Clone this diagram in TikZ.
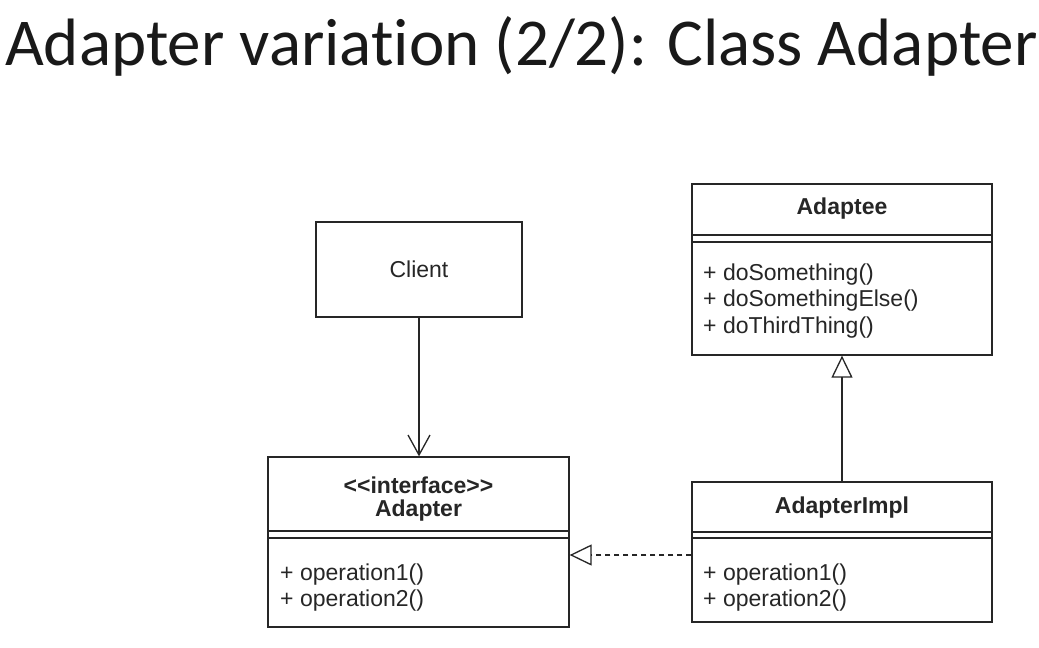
\documentclass[tikz,border=0pt]{standalone}
\usepackage{fontspec}
\setmainfont{Liberation Sans}
\newfontfamily\titlefont[Ligatures={NoCommon}]{Carlito}
\usetikzlibrary{arrows.meta}
\begin{document}
\begin{tikzpicture}[x=1pt,y=-1pt,
  umlbox/.style={draw=black!85, line width=1.3pt, rectangle, inner sep=0pt},
  sepline/.style={draw=black!85, line width=1.3pt},
  conn/.style={draw=black!85, line width=1.3pt},
  umltxt/.style={inner sep=0pt, font=\fontsize{23}{26}\selectfont, text=black!85},
  umlbold/.style={umltxt, font=\fontsize{23}{26}\selectfont\bfseries},
  mtxt/.style={umltxt, anchor=base west},
  inherit/.style={-{Triangle[open, length=22pt, width=21pt, line width=1.3pt]}},
  usesarrow/.style={-{Straight Barb[length=20pt, width=22pt, line width=1.3pt]}}
]
\useasboundingbox[fill=white] (0,0) rectangle (1039,648);

% title
\node[anchor=base west, inner sep=0pt, text=black!90] (title) at (5,65)
  {\titlefont\fontsize{67}{80}\selectfont Adapter variation (2/2): Class Adapter};

% Client
\node[umlbox, minimum width=206pt, minimum height=95pt] (client) at (419,269.5) {};
\node[umltxt] (clientlbl) at (client.center) {Client};

% Adapter interface
\node[umlbox, minimum width=301pt, minimum height=170pt] (adapter) at (418.5,542) {};
\node[umlbold] (adapterst) at (418.5,485) {{<}{<}interface{>}{>}};
\node[umlbold] (adapterlbl) at (418.5,511) {Adapter};
\draw[sepline] (adapter.west |- 0,531) -- (adapter.east |- 0,531);
\draw[sepline] (adapter.west |- 0,538) -- (adapter.east |- 0,538);
\node[mtxt] (adapterop1) at (280,580) {+ operation1()};
\node[mtxt] (adapterop2) at (280,606) {+ operation2()};

% Adaptee
\node[umlbox, minimum width=300pt, minimum height=171pt] (adaptee) at (842,269.5) {};
\node[umlbold] (adapteelbl) at (842,209) {Adaptee};
\draw[sepline] (adaptee.west |- 0,235) -- (adaptee.east |- 0,235);
\draw[sepline] (adaptee.west |- 0,242) -- (adaptee.east |- 0,242);
\node[mtxt] (adapteeop1) at (703,280) {+ doSomething()};
\node[mtxt] (adapteeop2) at (703,306) {+ doSomethingElse()};
\node[mtxt] (adapteeop3) at (703,333) {+ doThirdThing()};

% AdapterImpl
\node[umlbox, minimum width=300pt, minimum height=140pt] (impl) at (842,552) {};
\node[umlbold] (impllbl) at (842,508) {AdapterImpl};
\draw[sepline] (impl.west |- 0,532) -- (impl.east |- 0,532);
\draw[sepline] (impl.west |- 0,538) -- (impl.east |- 0,538);
\node[mtxt] (implop1) at (703,580) {+ operation1()};
\node[mtxt] (implop2) at (703,606) {+ operation2()};

% connectors
\draw[conn, usesarrow] (client.south) -- (client.south |- adapter.north);
\draw[conn, inherit] (impl.north) -- (adaptee.south);
\draw[conn, inherit, dash pattern=on 5pt off 4pt] (impl.west |- 0,555) -- (adapter.east |- 0,555);
\end{tikzpicture}
\end{document}
